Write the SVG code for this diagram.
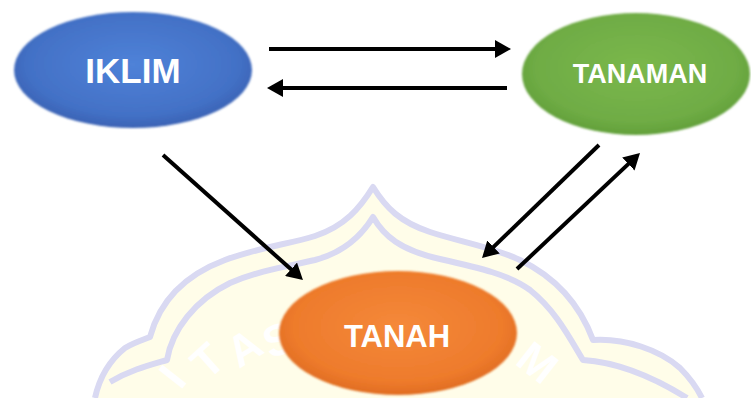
<svg xmlns="http://www.w3.org/2000/svg" width="751" height="398" viewBox="0 0 751 398">
<style>
.lbl{font-family:"Liberation Sans",Arial,sans-serif;font-weight:bold;fill:#ffffff;text-anchor:middle}
.wm{font-family:"Liberation Sans",Arial,sans-serif;font-weight:bold;fill:#ffffff;font-size:44px;text-anchor:middle}
.wline{fill:none;stroke:#d9d9f2;stroke-width:6;stroke-linejoin:round}
.arr{fill:none;stroke:#000000;stroke-width:4;marker-end:url(#ah)}
</style>
<defs>
<marker id="ah" markerUnits="userSpaceOnUse" markerWidth="18" markerHeight="18" refX="6" refY="9" orient="auto">
<path d="M0,0 L16,9 L0,18 Z" fill="#000000"/>
</marker>
<radialGradient id="gb" cx="50%" cy="45%" r="55%">
<stop offset="0" stop-color="#4f82d8"/><stop offset="0.8" stop-color="#4371c6"/><stop offset="1" stop-color="#3a62b4"/>
</radialGradient>
<radialGradient id="gg" cx="50%" cy="45%" r="55%">
<stop offset="0" stop-color="#7bb84c"/><stop offset="0.8" stop-color="#6fac45"/><stop offset="1" stop-color="#62a03a"/>
</radialGradient>
<radialGradient id="go" cx="50%" cy="45%" r="55%">
<stop offset="0" stop-color="#f5893a"/><stop offset="0.8" stop-color="#ee7b2c"/><stop offset="1" stop-color="#e06d22"/>
</radialGradient>
<filter id="soft" x="-10%" y="-10%" width="120%" height="125%">
<feGaussianBlur stdDeviation="0.8"/>
</filter>
</defs>
<rect width="751" height="398" fill="#ffffff"/>
<g id="watermark">
<path d="M95,398 C100,375 110,360 125,348 C135,342 143,340 150,337 C160,300 185,275 225,260 C260,247 290,244 315,236 C345,226 360,208 373,187 C386,208 400,222 430,232 C460,242 490,246 520,260 C555,277 580,305 593,340 C625,338 660,350 680,368 C690,378 698,390 702,398 Z" fill="#fffde9"/>
<path class="wline" d="M95,398 C100,375 110,360 125,348 C135,342 143,340 150,337 C160,300 185,275 225,260 C260,247 290,244 315,236 C345,226 360,208 373,187 C386,208 400,222 430,232 C460,242 490,246 520,260 C555,277 580,305 593,340 C625,338 660,350 680,368 C690,378 698,390 702,398"/>
<path class="wline" d="M110,382 C130,370 150,365 167,360 C172,330 195,300 230,283 C260,270 290,266 315,260 C345,252 362,235 373,217 C384,236 400,250 440,259 C480,268 510,275 530,290 C555,310 568,335 583,360 C615,362 650,375 687,398"/>
<text class="wm" transform="translate(172,376) rotate(-52)" y="16">I</text>
<text class="wm" transform="translate(207,360) rotate(-42)" y="16">T</text>
<text class="wm" transform="translate(244,347) rotate(-32)" y="16">A</text>
<text class="wm" transform="translate(278,339) rotate(-22)" y="16">S</text>
<text class="wm" transform="translate(538,362) rotate(38)" y="16">M</text>
</g>
<g id="connectors">
<line class="arr" x1="269" y1="49" x2="501" y2="49"/>
<line class="arr" x1="507" y1="88" x2="277" y2="88"/>
<line class="arr" x1="163" y1="155" x2="295.5" y2="273.3"/>
<line class="arr" x1="599" y1="145" x2="489.2" y2="251.1"/>
<line class="arr" x1="517" y1="269" x2="632.7" y2="159.9"/>
</g>
<g id="iklim">
<ellipse cx="133" cy="70" rx="119" ry="58" fill="url(#gb)" filter="url(#soft)"/>
<text class="lbl" x="133" y="83" font-size="35">IKLIM</text>
</g>
<g id="tanaman">
<ellipse cx="636" cy="74" rx="114" ry="61" fill="url(#gg)" filter="url(#soft)"/>
<text class="lbl" x="640" y="83" font-size="27">TANAMAN</text>
</g>
<g id="tanah">
<ellipse cx="398" cy="333" rx="119" ry="62" fill="url(#go)" filter="url(#soft)"/>
<text class="lbl" x="397" y="347" font-size="31">TANAH</text>
</g>
</svg>
